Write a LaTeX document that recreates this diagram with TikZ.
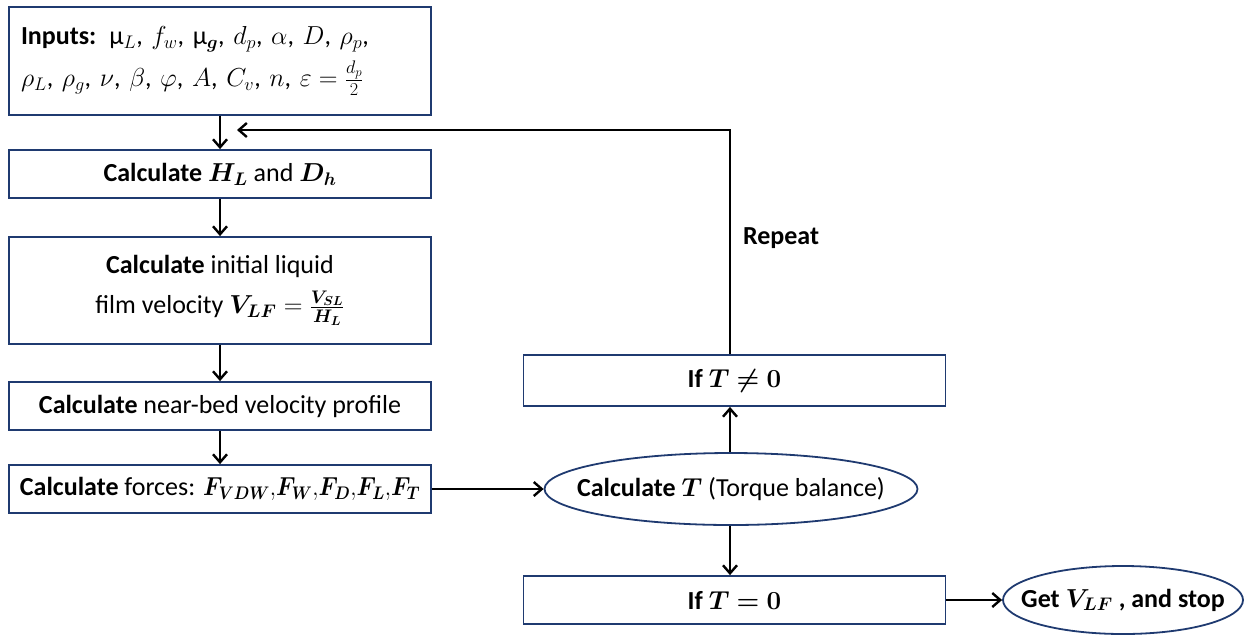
\documentclass[tikz,border=0pt]{standalone}
\usepackage{fix-cm}
\usepackage{amsmath}
\usepackage{bm}
\usepackage{fontspec}
\setmainfont{Carlito}
\usetikzlibrary{arrows.meta,shapes.geometric}
\definecolor{bordc}{HTML}{1F3A70}
\begin{document}
\begin{tikzpicture}[x=1pt,y=-1pt,
  box/.style={draw=bordc,line width=1.8pt,rectangle,inner sep=0pt,minimum width=422pt,font=\fontsize{26}{32}\selectfont,align=center},
  oval/.style={draw=bordc,line width=1.8pt,ellipse,inner sep=0pt,font=\fontsize{26}{32}\selectfont},
  arr/.style={-{Straight Barb[length=8pt,width=14pt,line width=2.4pt]},line width=2.8pt,black}]
\useasboundingbox (0,0) rectangle (1247,638);
\node[box,minimum height=108pt,align=left,text width=398pt,inner xsep=12pt,font=\fontsize{26}{42}\selectfont] (inp) at (220,61)
 {\textbf{Inputs:} μ$_L$, $f_w$, μ$_{\boldsymbol g}$, $d_p$, $\alpha$, $D$, $\rho_p$,\\
  $\rho_L$, $\rho_g$, $\nu$, $\beta$, $\varphi$, $A$, $C_v$, $n$, $\varepsilon=\frac{d_p}{2}$};
\node[box,minimum height=48pt] (hl) at (220,174) {\textbf{Calculate} $\bm{H_L}$ and $\bm{D_h}$};
\node[box,minimum height=107pt,font=\fontsize{26}{40}\selectfont] (vlf) at (220,290.5) {\textbf{Calculate} initial liquid\\ film velocity $\bm{V_{LF}}=\frac{\bm{V_{SL}}}{\bm{H_L}}$};
\node[box,minimum height=48pt] (nb) at (220,406) {\textbf{Calculate} near-bed velocity profile};
\node[box,minimum height=48pt] (frc) at (220,489) {\textbf{Calculate} forces: \scalebox{0.88}[1]{$\bm{F_{VDW}}{,}\bm{F_W}{,}\bm{F_D}{,}\bm{F_L}{,}\bm{F_T}$}};
\node[oval,minimum width=373pt,minimum height=72pt] (tq) at (731,489) {\makebox[0pt][c]{\textbf{Calculate} $\bm{T}$ (Torque balance)}};
\node[box,minimum height=51pt] (tn) at (734.5,380.5) {\textbf{If} $\bm{T\neq 0}$};
\node[box,minimum height=48pt] (tz) at (734.5,600) {\textbf{If} $\bm{T=0}$};
\node[oval,minimum width=240pt,minimum height=68pt] (get) at (1123,600) {\makebox[0pt][c]{\textbf{Get $\bm{V_{LF}}$ , and stop}}};
\node[font=\fontsize{26}{30}\selectfont\bfseries] (rep) at (781,238) {Repeat};
\coordinate (c2) at (237,130);
\draw[arr] (inp.south) -- (hl.north);
\draw[arr] (hl.south) -- (vlf.north);
\draw[arr] (vlf.south) -- (nb.north);
\draw[arr] (nb.south) -- (frc.north);
\draw[arr] (frc.east) -- (tq.west);
\draw[arr] ([xshift=-4.5pt]tq.north -| tn.south) -- ([xshift=-4.5pt]tn.south);
\draw[arr] ([xshift=-4.5pt]tq.south -| tz.north) -- ([xshift=-4.5pt]tz.north);
\draw[arr] (tz.east) -- (get.west);
\draw[arr] ([xshift=-4.5pt]tn.north) |- (c2);
\end{tikzpicture}
\end{document}
